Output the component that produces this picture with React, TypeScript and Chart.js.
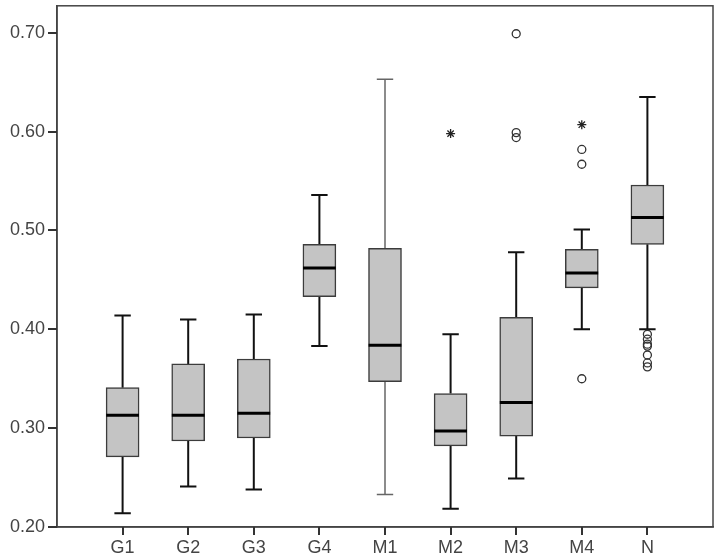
import React, { useEffect, useRef } from 'react';
import { Chart, registerables } from 'chart.js';

Chart.register(...registerables);

const categories = ['G1', 'G2', 'G3', 'G4', 'M1', 'M2', 'M3', 'M4', 'N'];
const whiskerLow = [0.214, 0.241, 0.238, 0.383, 0.233, 0.2185, 0.249, 0.4, 0.4];
const q1 = [0.271, 0.287, 0.29, 0.433, 0.347, 0.282, 0.292, 0.442, 0.486];
const median = [0.313, 0.313, 0.315, 0.462, 0.384, 0.297, 0.326, 0.457, 0.513];
const q3 = [0.341, 0.365, 0.37, 0.486, 0.482, 0.335, 0.412, 0.481, 0.546];
const whiskerHigh = [0.414, 0.41, 0.415, 0.536, 0.653, 0.395, 0.478, 0.501, 0.635];

// mild outliers (circles): [category, value]
const circleOutliers: [string, number][] = [
  ['M3', 0.699], ['M3', 0.599], ['M3', 0.594],
  ['M4', 0.582], ['M4', 0.567], ['M4', 0.35],
  ['N', 0.395], ['N', 0.39], ['N', 0.385], ['N', 0.383], ['N', 0.374], ['N', 0.366], ['N', 0.362],
];
// extreme outliers (stars)
const starOutliers: [string, number][] = [['M2', 0.598], ['M4', 0.607]];

const yTicks = [0.2, 0.3, 0.4, 0.5, 0.6, 0.7];
const thinWhisker = ['M1'];

const FONT = { family: '"Liberation Sans", Arial, sans-serif', size: 18 };
const INK = '#3c3c3c';
const CAP = 0.125;
const HALF = 0.25;

function pos(c: string) {
  return categories.indexOf(c) + 1;
}

function whiskerPoints(filter: (c: string) => boolean) {
  const pts: { x: number; y: number | null }[] = [];
  categories.forEach((c, i) => {
    if (!filter(c)) return;
    const x = i + 1;
    pts.push({ x, y: whiskerLow[i] }, { x, y: q1[i] }, { x, y: null });
    pts.push({ x, y: q3[i] }, { x, y: whiskerHigh[i] }, { x, y: null });
    pts.push({ x: x - CAP, y: whiskerLow[i] }, { x: x + CAP, y: whiskerLow[i] }, { x, y: null });
    pts.push({ x: x - CAP, y: whiskerHigh[i] }, { x: x + CAP, y: whiskerHigh[i] }, { x, y: null });
  });
  return pts;
}

function medianPoints() {
  const pts: { x: number; y: number | null }[] = [];
  categories.forEach((c, i) => {
    const x = i + 1;
    pts.push({ x: x - HALF, y: median[i] }, { x: x + HALF, y: median[i] }, { x, y: null });
  });
  return pts;
}

const framePlugin = {
  id: 'frame',
  beforeDatasetsDraw(chart: any) {
    const { ctx, chartArea } = chart;
    ctx.save();
    ctx.strokeStyle = '#444';
    ctx.lineWidth = 1.5;
    ctx.strokeRect(chartArea.left, chartArea.top, chartArea.right - chartArea.left, chartArea.bottom - chartArea.top);
    ctx.restore();
  },
  afterDraw(chart: any) {
    const { ctx, chartArea, scales } = chart;
    ctx.save();
    ctx.strokeStyle = '#333';
    ctx.lineWidth = 2;
    ctx.beginPath();
    categories.forEach((_, i) => {
      const px = Math.round(scales.x.getPixelForValue(i + 1));
      ctx.moveTo(px, chartArea.bottom);
      ctx.lineTo(px, chartArea.bottom + 8);
    });
    yTicks.forEach((v) => {
      const py = Math.round(scales.y.getPixelForValue(v));
      ctx.moveTo(chartArea.left - 9, py);
      ctx.lineTo(chartArea.left, py);
    });
    ctx.stroke();
    ctx.restore();
  },
};

export default function App() {
  const ref = useRef<HTMLCanvasElement>(null);
  useEffect(() => {
    if (!ref.current) return;
    const chart = new Chart(ref.current, {
      type: 'bar',
      data: {
        datasets: [
          {
            type: 'line',
            data: medianPoints(),
            borderColor: '#000',
            borderWidth: 3,
            pointRadius: 0,
            spanGaps: false,
            order: 0,
          } as any,
          {
            type: 'bar',
            data: categories.map((c, i) => ({ x: i + 1, y: [q1[i], q3[i]] })),
            backgroundColor: '#c4c4c4',
            borderColor: INK,
            borderWidth: 1.5,
            borderSkipped: false,
            barThickness: 33,
            order: 1,
          } as any,
          {
            type: 'line',
            data: whiskerPoints((c) => !thinWhisker.includes(c)),
            borderColor: '#111',
            borderWidth: 2,
            pointRadius: 0,
            spanGaps: false,
            order: 2,
          } as any,
          {
            type: 'line',
            data: whiskerPoints((c) => thinWhisker.includes(c)),
            borderColor: '#666',
            borderWidth: 1.5,
            pointRadius: 0,
            spanGaps: false,
            order: 2,
          } as any,
          {
            type: 'scatter',
            data: circleOutliers.map(([c, v]) => ({ x: pos(c), y: v })),
            pointStyle: 'circle',
            pointRadius: 4,
            pointBackgroundColor: 'rgba(255,255,255,0)',
            pointBorderColor: '#333',
            pointBorderWidth: 1.3,
            order: 0,
          } as any,
          {
            type: 'scatter',
            data: starOutliers.map(([c, v]) => ({ x: pos(c), y: v })),
            pointStyle: 'star',
            pointRadius: 4.5,
            pointBorderColor: '#222',
            pointBorderWidth: 1.3,
            order: 0,
          } as any,
        ],
      },
      options: {
        responsive: false,
        animation: false,
        layout: { padding: { top: 5, right: 7, left: 0, bottom: 0 } },
        plugins: { legend: { display: false }, tooltip: { enabled: false } },
        scales: {
          x: {
            type: 'linear',
            min: 0,
            max: 10,
            offset: false,
            afterBuildTicks: (s: any) => {
              s.ticks = categories.map((_, i) => ({ value: i + 1 }));
            },
            afterFit: (s: any) => {
              s.height = 33;
              s.paddingLeft = 0;
              s.paddingRight = 0;
            },
            ticks: {
              autoSkip: false,
              maxRotation: 0,
              padding: 2,
              font: FONT,
              color: '#444',
              callback: (v: any) => categories[Math.round(v) - 1] ?? '',
            },
            grid: {
              display: true,
              offset: false,
              drawOnChartArea: false,
              drawTicks: true,
              tickLength: 8,
              color: '#333',
              tickColor: '#333',
              lineWidth: 2,
              tickWidth: 2,
            },
            border: { display: true, color: '#444', width: 1.5 },
          },
          y: {
            type: 'linear',
            min: 0.2,
            max: 0.7273,
            afterBuildTicks: (s: any) => {
              s.ticks = yTicks.map((v) => ({ value: v }));
            },
            afterFit: (s: any) => {
              s.width = 57;
              s.paddingTop = 0;
              s.paddingBottom = 0;
            },
            ticks: {
              padding: 3,
              font: FONT,
              color: '#444',
              callback: (v: any) => Number(v).toFixed(2),
            },
            grid: {
              display: true,
              drawOnChartArea: false,
              drawTicks: true,
              tickLength: 9,
              color: '#333',
              tickColor: '#333',
              lineWidth: 2,
              tickWidth: 2,
            },
            border: { display: true, color: '#444', width: 1.5 },
          },
        },
      },
      plugins: [framePlugin],
    } as any);
    return () => chart.destroy();
  }, []);
  return (
    <div style={{ position: 'absolute', left: 0, top: 0, width: 720, height: 560 }}>
      <canvas ref={ref} width={720} height={560} />
    </div>
  );
}
